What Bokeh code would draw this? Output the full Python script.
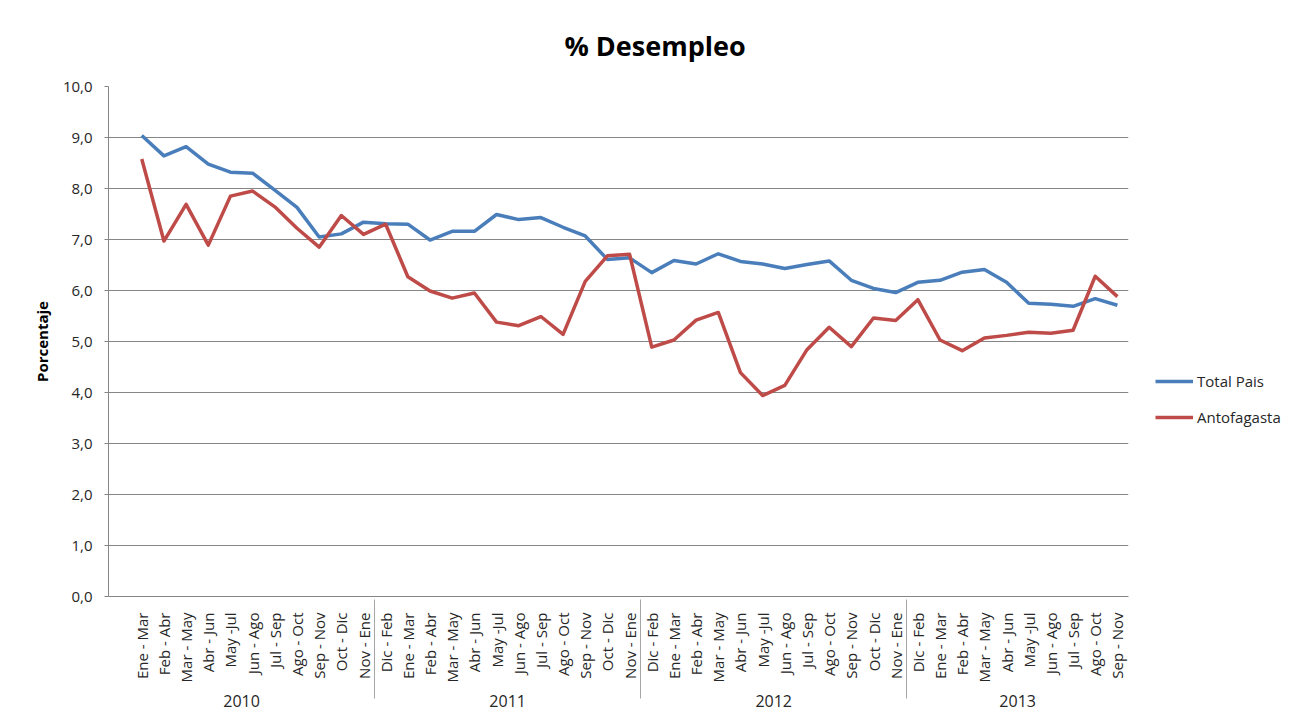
import math
from bokeh.plotting import figure
from bokeh.models import (FactorRange, Range1d, FixedTicker, CustomJSTickFormatter,
                          Legend, LegendItem)
from bokeh.embed import file_html
from bokeh.resources import INLINE

# ---- data ----
anios = (["2010"] * 11) + (["2011"] * 12) + (["2012"] * 12) + (["2013"] * 10)
periodos = [
    "Ene - Mar", "Feb - Abr", "Mar - May", "Abr - Jun", "May -Jul", "Jun - Ago",
    "Jul - Sep", "Ago - Oct", "Sep - Nov", "Oct - Dic", "Nov - Ene",
    "Dic - Feb", "Ene - Mar", "Feb - Abr", "Mar - May", "Abr - Jun", "May -Jul",
    "Jun - Ago", "Jul - Sep", "Ago - Oct", "Sep - Nov", "Oct - Dic", "Nov - Ene",
    "Dic - Feb", "Ene - Mar", "Feb - Abr", "Mar - May", "Abr - Jun", "May -Jul",
    "Jun - Ago", "Jul - Sep", "Ago - Oct", "Sep - Nov", "Oct - Dic", "Nov - Ene",
    "Dic - Feb", "Ene - Mar", "Feb - Abr", "Mar - May", "Abr - Jun", "May -Jul",
    "Jun - Ago", "Jul - Sep", "Ago - Oct", "Sep - Nov",
]
total_pais = [
    9.04, 8.64, 8.82, 8.48, 8.32, 8.30, 7.97, 7.63, 7.05, 7.11, 7.34,
    7.31, 7.30, 6.99, 7.16, 7.16, 7.49, 7.39, 7.43, 7.24, 7.07, 6.61, 6.64,
    6.35, 6.59, 6.52, 6.72, 6.57, 6.52, 6.43, 6.51, 6.58, 6.20, 6.04, 5.96,
    6.16, 6.20, 6.36, 6.41, 6.16, 5.75, 5.73, 5.69, 5.84, 5.71,
]
antofagasta = [
    8.58, 6.97, 7.69, 6.89, 7.85, 7.95, 7.64, 7.22, 6.85, 7.47, 7.10,
    7.30, 6.27, 5.99, 5.85, 5.95, 5.38, 5.31, 5.49, 5.14, 6.18, 6.68, 6.71,
    4.89, 5.03, 5.42, 5.57, 4.39, 3.94, 4.14, 4.84, 5.28, 4.90, 5.46, 5.41,
    5.82, 5.03, 4.82, 5.07, 5.12, 5.18, 5.16, 5.22, 6.28, 5.88,
]
y_ticks = [0, 1, 2, 3, 4, 5, 6, 7, 8, 9, 10]
series_names = ["Total Pais", "Antofagasta"]
titulo = "% Desempleo"
eje_y = "Porcentaje"

x = list(zip(anios, periodos))
factors = [("2010", "")] + x

FONT = "Open Sans"
GRID = "#868686"
SEP = "#a6a6a6"

p = figure(
    x_range=FactorRange(factors=factors, factor_padding=0, group_padding=0,
                        subgroup_padding=0, range_padding=0),
    y_range=Range1d(0, 10),
    frame_width=1020, frame_height=510,
    min_border_left=108, min_border_top=86, min_border_right=158, min_border_bottom=127,
    output_backend="svg", toolbar_location=None,
)
p.outline_line_color = None

p.title.text = titulo
p.title.text_font = FONT
p.title.text_font_size = "27px"
p.title.text_font_style = "bold"
p.title.text_color = "#000000"
p.title.align = "left"
p.title.offset = 456
p.title.standoff = 45

# y axis
p.yaxis.ticker = FixedTicker(ticks=y_ticks)
p.yaxis.formatter = CustomJSTickFormatter(code="return tick.toFixed(1).replace('.', ',');")
p.yaxis.major_label_text_font = FONT
p.yaxis.major_label_text_font_size = "15px"
p.yaxis.major_label_text_color = "#262626"
p.yaxis.major_label_standoff = 12
p.yaxis.major_tick_out = 4
p.yaxis.major_tick_in = 0
p.yaxis.major_tick_line_color = GRID
p.yaxis.minor_tick_line_color = None
p.yaxis.axis_line_color = GRID
p.yaxis.axis_label = eje_y
p.yaxis.axis_label_text_font = FONT
p.yaxis.axis_label_text_font_size = "15px"
p.yaxis.axis_label_text_font_style = "bold"
p.yaxis.axis_label_text_color = "#000000"
p.yaxis.axis_label_standoff = 8

# x axis
p.xaxis.major_label_orientation = math.pi / 2
p.xaxis.major_label_text_font = FONT
p.xaxis.major_label_text_font_size = "15px"
p.xaxis.major_label_text_color = "#262626"
p.xaxis.major_label_standoff = 10
p.xaxis.major_tick_line_color = None
p.xaxis.minor_tick_line_color = None
p.xaxis.axis_line_color = GRID
p.xaxis.group_text_font = FONT
p.xaxis.group_text_font_size = "16px"
p.xaxis.group_text_font_style = "normal"
p.xaxis.group_text_color = "#262626"
p.xaxis.separator_line_color = SEP
p.xaxis.separator_line_width = 1

p.xgrid.grid_line_color = None
p.ygrid.grid_line_color = GRID
p.ygrid.grid_line_width = 1

r1 = p.line(x, total_pais, line_color="#4A7EBB", line_width=3.5, line_join="round")
r2 = p.line(x, antofagasta, line_color="#BE4B48", line_width=3.5, line_join="round")

legend = Legend(
    items=[LegendItem(label=series_names[0], renderers=[r1]),
           LegendItem(label=series_names[1], renderers=[r2])],
    location=(27, 169), orientation="vertical",
    glyph_width=38, glyph_height=20, label_height=20, spacing=16,
    padding=0, margin=0, border_line_color=None, background_fill_alpha=0,
    label_text_font=FONT, label_text_font_size="15px", label_text_color="#262626",
    label_standoff=4,
)
p.add_layout(legend, "right")

open("out.html", "w").write(file_html(p, INLINE))
